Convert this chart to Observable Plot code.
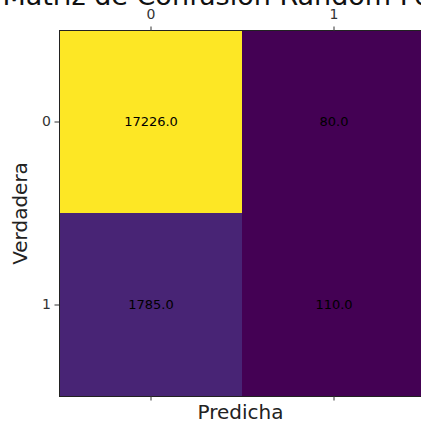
<!DOCTYPE html>
<html>
<head>
<meta charset="utf-8">
<script src="https://cdn.jsdelivr.net/npm/d3@7"></script>
<script src="https://cdn.jsdelivr.net/npm/@observablehq/plot@0.6"></script>
<style>
  html, body { margin: 0; padding: 0; background: white; }
  svg { display: block; }
</style>
</head>
<body>
<div id="chart"></div>
<script>
const title = "Matriz de Confusión Random Forest";
const xLabelText = "Predicha";
const yLabelText = "Verdadera";
const predLabels = ["0", "1"];
const trueLabels = ["0", "1"];
const row0 = [17226, 80];
const row1 = [1785, 110];

const rows = [row0, row1];
const data = [];
trueLabels.forEach((t, i) => {
  predLabels.forEach((p, j) => {
    data.push({ truth: t, pred: p, value: rows[i][j] });
  });
});
const allValues = data.map(d => d.value);

const chart = Plot.plot({
  width: 421,
  height: 425,
  marginLeft: 59,
  marginRight: -4,
  marginTop: 30,
  marginBottom: 29,
  style: { fontFamily: "DejaVu Sans", background: "white", color: "#222" },
  x: { domain: predLabels, padding: 0, axis: null },
  y: { domain: trueLabels, padding: 0, axis: null },
  color: { type: "linear", domain: [d3.min(allValues), d3.max(allValues)], scheme: "viridis" },
  marks: [
    Plot.cell(data, { x: "pred", y: "truth", fill: "value" }),
    Plot.text(data, { x: "pred", y: "truth", text: d => d.value.toFixed(1), fill: "black", fontSize: 13 }),
    Plot.frame({ stroke: "#222", strokeWidth: 1 }),
    Plot.axisX({ anchor: "top", tickSize: 4.5, tickPadding: 7, fontSize: 14, label: null, stroke: "#333", fill: "#333" }),
    Plot.axisX({ anchor: "bottom", tickSize: 4.5, tickFormat: () => "", label: null, stroke: "#333" }),
    Plot.axisY({ anchor: "left", tickSize: 4.5, tickPadding: 4, fontSize: 14, label: null, stroke: "#333", fill: "#333" }),
    Plot.text([title], { frameAnchor: "top", dy: -26, lineAnchor: "bottom", fontSize: 27, fill: "#111" }),
    Plot.text([xLabelText], { frameAnchor: "bottom", dy: 22, dx: -2, lineAnchor: "bottom", fontSize: 20, fill: "#222" }),
    Plot.text([yLabelText], { frameAnchor: "left", dx: -33, rotate: -90, textAnchor: "middle", lineAnchor: "bottom", fontSize: 20, fill: "#222" })
  ]
});
document.getElementById("chart").appendChild(chart);
</script>
</body>
</html>
